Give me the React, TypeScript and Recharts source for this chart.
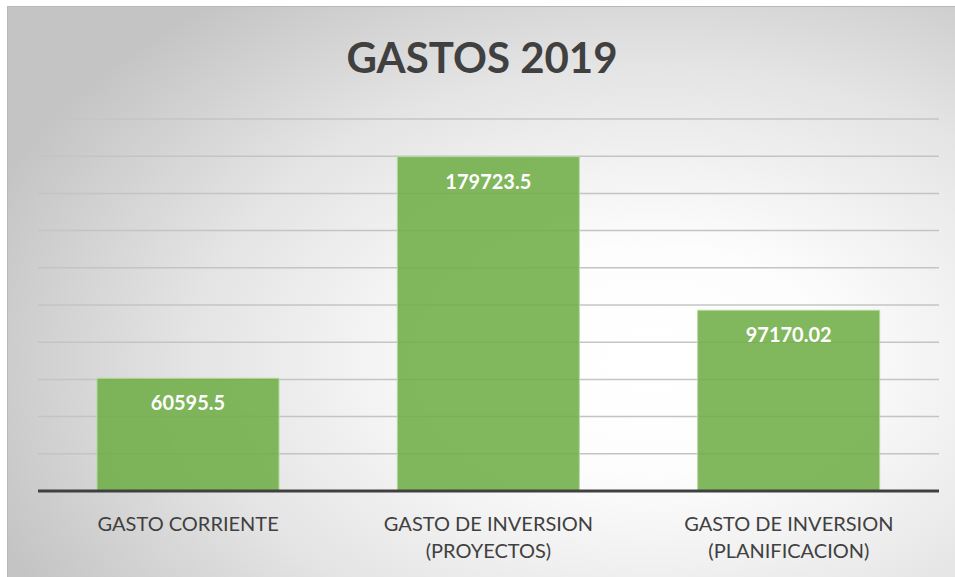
import { BarChart, Bar, XAxis, YAxis, CartesianGrid, LabelList } from 'recharts';

const categories = [
  'GASTO CORRIENTE',
  'GASTO DE INVERSION (PROYECTOS)',
  'GASTO DE INVERSION (PLANIFICACION)',
];
const gastos = [60595.5, 179723.5, 97170.02];
const yTicks = [0, 20000, 40000, 60000, 80000, 100000, 120000, 140000, 160000, 180000, 200000];

const data = categories.map((name, i) => ({ name, value: gastos[i] }));

const CategoryTick = (props: any) => {
  const { x, y, payload } = props;
  const label: string = payload.value;
  const idx = label.indexOf(' (');
  const lines = idx > 0 ? [label.slice(0, idx), label.slice(idx + 1)] : [label];
  return (
    <text x={x} y={y} textAnchor="middle" fill="#404040" fontSize={20} fontFamily="Lato, 'Open Sans', sans-serif">
      {lines.map((l, i) => (
        <tspan key={i} x={x} dy={i === 0 ? 32 : 27}>
          {l}
        </tspan>
      ))}
    </text>
  );
};

export default function App() {
  return (
    <div style={{ position: 'absolute', left: 0, top: 0, width: 955, height: 577, background: '#fff' }}>
      <div
        style={{
          position: 'absolute',
          left: 7,
          top: 6,
          width: 948,
          height: 571,
          boxSizing: 'border-box',
          borderTop: '1px solid #b8b8b8',
          borderLeft: '1px solid #b8b8b8',
          background: 'radial-gradient(ellipse 75% 80% at 68% 62%, #ffffff 0%, #fdfdfd 25%, #e4e4e4 65%, #c4c4c4 100%)',
        }}
      >
        <div
          style={{
            position: 'absolute',
            left: 0,
            top: 25,
            width: 948,
            textAlign: 'center',
            fontFamily: "Lato, 'Open Sans', sans-serif",
            fontWeight: 700,
            fontSize: 42,
            color: '#404040',
            lineHeight: '50px',
          }}
        >
          GASTOS 2019
        </div>
        <BarChart
          width={948}
          height={571}
          data={data}
          margin={{ top: 112, right: 17, left: 30, bottom: 0 }}
          barSize={182}
          style={{ position: 'absolute', left: 0, top: 0 }}
        >
          <CartesianGrid vertical={false} stroke="#c4c4c4" strokeWidth={1.5} />
          <YAxis hide domain={[0, 200000]} ticks={yTicks} />
          <XAxis
            dataKey="name"
            height={87}
            axisLine={{ stroke: '#404040', strokeWidth: 3 }}
            tickLine={false}
            tick={<CategoryTick />}
            interval={0}
          />
          <Bar dataKey="value" fill="#70ad47" fillOpacity={0.88} stroke="#b5d99c" strokeWidth={1} isAnimationActive={false}>
            <LabelList
              dataKey="value"
              position="insideTop"
              offset={18}
              fill="#ffffff"
              fontSize={20}
              fontWeight={700}
              fontFamily="Lato, 'Open Sans', sans-serif"
            />
          </Bar>
        </BarChart>
      </div>
    </div>
  );
}
